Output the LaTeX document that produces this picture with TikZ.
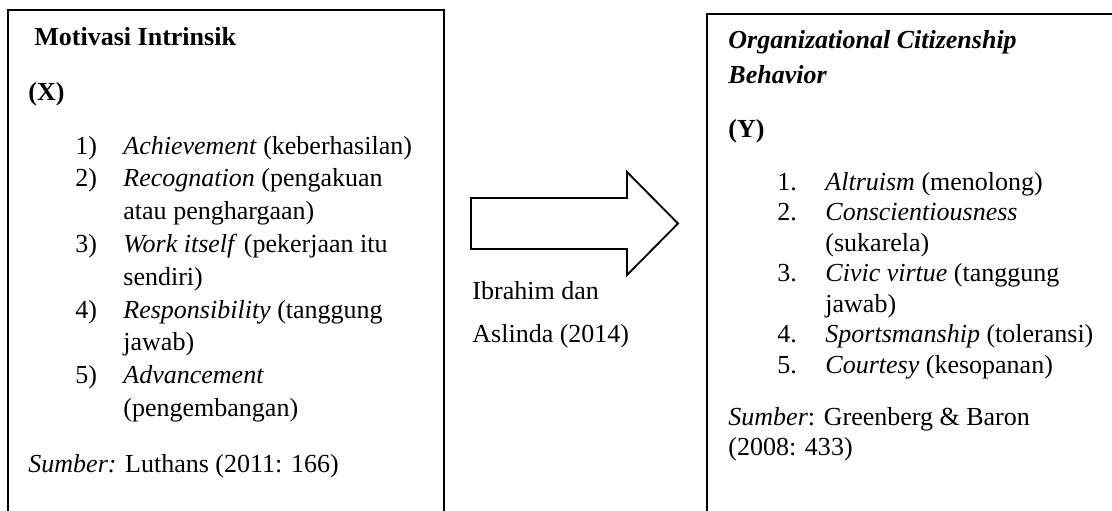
\documentclass[tikz,border=0pt]{standalone}
\usepackage{fontspec}
\setmainfont{Liberation Serif}

\begin{document}
\begin{tikzpicture}[
        x=0.01622cm,
        y=-0.01622cm,
        font=\fontsize{12}{14}\selectfont
    ]
    \tikzset{
        textnode/.style = {anchor=base west, inner sep=0pt},
        framebox/.style = {draw=black, line width=0.5pt},
        bigarrow/.style = {draw=black, line width=0.85pt, fill=white, line join=miter},
    }
    \clip (0,0) rectangle (1112,510);
    % kotak variabel X
    \draw[framebox] (8,530) |- (444,10) -- (444,530);
    \node[textnode] (titlex) at (34,45) {\textbf{Motivasi Intrinsik}};
    \node[textnode] (varx) at (28,100) {\textbf{(X)}};
    \node[textnode] (listx) at (75,154) {\fontsize{12}{15.14}\selectfont
        \begin{tabular}[t]{@{}p{22.15pt}@{}l@{}}
            1) & \textit{Achievement} (keberhasilan)\\
            2) & \textit{Recognation} (pengakuan\\
               & atau penghargaan)\\
            3) & \textit{Work itself} (pekerjaan itu\\
               & sendiri)\\
            4) & \textit{Responsibility} (tanggung\\
               & jawab)\\
            5) & \textit{Advancement}\\
               & (pengembangan)
        \end{tabular}};
    \node[textnode] (sumberx) at (28,472) {\textit{Sumber:} Luthans (2011: 166)};
    % panah
    \draw[bigarrow] (471,198) -- (627,198) -- (627,172) -- (678,223.5)
        -- (627,275) -- (627,249) -- (471,249) -- cycle;
    \node[textnode] (sumberpanah) at (472,299) {\fontsize{12}{20.3}\selectfont
        \begin{tabular}[t]{@{}l@{}}
            Ibrahim dan\\
            Aslinda (2014)
        \end{tabular}};
    % kotak variabel Y
    \draw[framebox] (707,530) |- (1130,14);
    \node[textnode] (titley) at (728,48) {\fontsize{12}{16.15}\selectfont
        \begin{tabular}[t]{@{}l@{}}
            \textbf{\textit{Organizational Citizenship}}\\
            \textbf{\textit{Behavior}}
        \end{tabular}};
    \node[textnode] (vary) at (728,137) {\textbf{(Y)}};
    \node[textnode] (listy) at (777,190) {\fontsize{12}{14.08}\selectfont
        \begin{tabular}[t]{@{}p{22.15pt}@{}l@{}}
            1. & \textit{Altruism} (menolong)\\
            2. & \textit{Conscientiousness}\\
               & (sukarela)\\
            3. & \textit{Civic virtue} (tanggung\\
               & jawab)\\
            4. & \textit{Sportsmanship} (toleransi)\\
            5. & \textit{Courtesy} (kesopanan)
        \end{tabular}};
    \node[textnode] (sumbery) at (728,425) {\fontsize{12}{13.85}\selectfont
        \begin{tabular}[t]{@{}l@{}}
            \textit{Sumber}: Greenberg \& Baron\\
            (2008: 433)
        \end{tabular}};
\end{tikzpicture}
\end{document}
